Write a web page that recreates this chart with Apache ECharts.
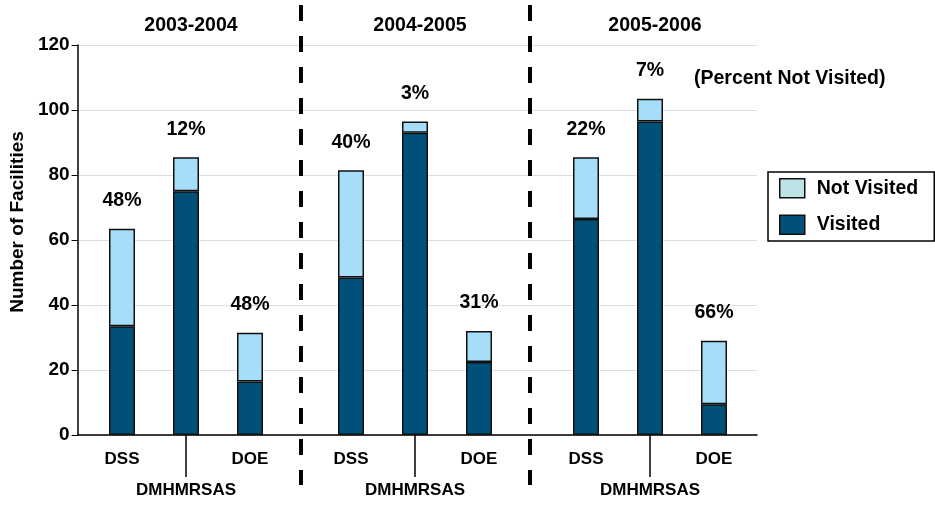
<!DOCTYPE html>
<html>
<head>
<meta charset="utf-8">
<style>
  html, body { margin: 0; padding: 0; background: #fff; }
  #chart { width: 935px; height: 506px; }
</style>
<script src="https://cdn.jsdelivr.net/npm/echarts@6/dist/echarts.min.js"></script>
</head>
<body>
<div id="chart"></div>
<script>
const periods = ['2003-2004', '2004-2005', '2005-2006']
const agencies = ['DSS', 'DMHMRSAS', 'DOE']
// facilities per period, in agency order
const visited = [[33.5, 75, 16.5], [48.5, 93, 22.5], [66.5, 96.5, 9.5]]
const notVisited = [[30, 10.5, 15], [33, 3.5, 9.5], [19, 7, 19.5]]
const pctNotVisited = [['48%', '12%', '48%'], ['40%', '3%', '31%'], ['22%', '7%', '66%']]

const FONT = '"Liberation Sans", Arial, sans-serif'
const LIGHT = '#a6ddf9'
const DARK = '#00507a'
const TOP = 45, BOTTOM = 71
const groupLeft = [90, 319, 554]
const groupWidth = 192

const chart = echarts.init(document.getElementById('chart'), null, { renderer: 'canvas' })

// background grid carries the y axis, gridlines and the base line
const grids = [{ left: 74, right: 178, top: TOP, bottom: BOTTOM }]
const xAxes = [{
  type: 'value', gridIndex: 0, min: 0, max: 1,
  axisLine: { lineStyle: { color: '#000', width: 1.5 } },
  axisTick: { show: false }, axisLabel: { show: false }, splitLine: { show: false }
}]
const yAxes = [{
  type: 'value', gridIndex: 0, min: 0, max: 120, interval: 20,
  name: 'Number of Facilities', nameLocation: 'middle', nameRotate: 90, nameGap: 44,
  nameTextStyle: { fontFamily: FONT, fontWeight: 'bold', fontSize: 19, color: '#000', padding: [0, 0, 0, 36] },
  axisLine: { show: true, lineStyle: { color: '#000', width: 1.5 } },
  axisTick: { show: true, length: 6, lineStyle: { color: '#000' } },
  axisLabel: { margin: 8, fontFamily: FONT, fontWeight: 'bold', fontSize: 19, color: '#000' },
  splitLine: { lineStyle: { color: '#dedede', width: 1 } }
}]
const series = []
const titles = []

periods.forEach((p, g) => {
  const gi = g + 1
  grids.push({ left: groupLeft[g], width: groupWidth, top: TOP, bottom: BOTTOM })
  xAxes.push({
    type: 'category', gridIndex: gi, data: agencies,
    axisLine: { show: false },
    axisTick: {
      show: true, alignWithLabel: true, length: 42,
      interval: (idx) => idx === 1,
      lineStyle: { color: '#000', width: 1.5 }
    },
    axisLabel: {
      interval: 0, margin: 16,
      formatter: (v, i) => i === 1 ? '{low|' + v + '}' : '{hi|' + v + '}',
      rich: {
        hi: { fontFamily: FONT, fontWeight: 'bold', fontSize: 17, color: '#000' },
        low: { fontFamily: FONT, fontWeight: 'bold', fontSize: 17, color: '#000', padding: [31, 0, 0, 0] }
      }
    }
  })
  yAxes.push({ type: 'value', gridIndex: gi, min: 0, max: 120, interval: 20, show: false, splitLine: { show: false } })
  series.push({
    name: 'Visited', type: 'bar', stack: 'g' + g, xAxisIndex: gi, yAxisIndex: gi,
    barWidth: 26, data: visited[g],
    itemStyle: { color: DARK, borderColor: '#111', borderWidth: 1.5 }
  })
  series.push({
    name: 'Not Visited', type: 'bar', stack: 'g' + g, xAxisIndex: gi, yAxisIndex: gi,
    barWidth: 26, data: notVisited[g],
    itemStyle: { color: LIGHT, borderColor: '#111', borderWidth: 1.5 },
    label: {
      show: true, position: 'top', distance: 18,
      formatter: (d) => pctNotVisited[g][d.dataIndex],
      fontFamily: FONT, fontWeight: 'bold', fontSize: 19.5, color: '#000'
    }
  })
  titles.push({
    text: p, left: groupLeft[g] + groupWidth / 2, top: 11, textAlign: 'center',
    textStyle: { fontFamily: FONT, fontWeight: 'bold', fontSize: 19.5, color: '#000' }
  })
})

titles.push({
  text: '(Percent Not Visited)', left: 689, top: 64,
  textStyle: { fontFamily: FONT, fontWeight: 'bold', fontSize: 19.5, color: '#000' }
})

const divider = (x) => ({
  type: 'line', shape: { x1: x, y1: 5, x2: x, y2: 485 },
  style: { stroke: '#000', lineWidth: 4, lineDash: [16, 15] }, z: 10
})

chart.setOption({
  animation: false,
  backgroundColor: '#fff',
  title: titles,
  legend: {
    orient: 'vertical', left: 768, top: 172,
    padding: [6, 16, 6, 11], itemGap: 16,
    itemWidth: 25, itemHeight: 19, icon: 'rect',
    borderColor: '#000', borderWidth: 1.5,
    textStyle: { fontFamily: FONT, fontWeight: 'bold', fontSize: 19.5, color: '#000', padding: [0, 0, 0, 7] },
    data: [
      { name: 'Not Visited', itemStyle: { color: '#bde3e6', borderColor: '#111', borderWidth: 1.5 } },
      { name: 'Visited', itemStyle: { color: DARK, borderColor: '#111', borderWidth: 1.5 } }
    ]
  },
  grid: grids,
  xAxis: xAxes,
  yAxis: yAxes,
  series: series,
  graphic: [divider(301), divider(530)]
})
</script>
</body>
</html>
